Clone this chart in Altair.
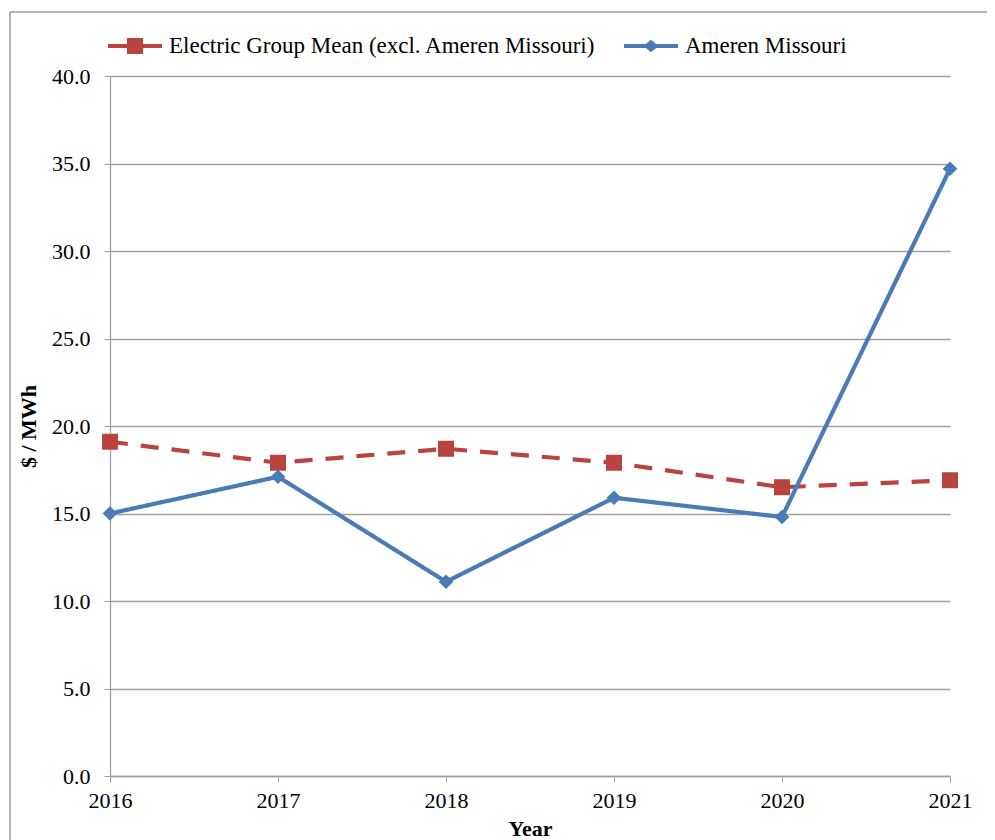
import altair as alt
import pandas as pd

years = [2016, 2017, 2018, 2019, 2020, 2021]
group_mean = [19.1, 17.9, 18.7, 17.9, 16.5, 16.9]
ameren = [15.0, 17.1, 11.1, 15.9, 14.8, 34.7]
series_names = ["Electric Group Mean (excl. Ameren Missouri)", "Ameren Missouri"]
colors = ["#B8433F", "#4A7BB7"]
y_ticks = [0, 5, 10, 15, 20, 25, 30, 35, 40]

rows = []
for s, vals in zip(series_names, [group_mean, ameren]):
    for yr, v in zip(years, vals):
        rows.append({"Year": yr, "Series": s, "Value": v})
df = pd.DataFrame(rows)

FONT = "Liberation Serif"
GRAY = "#A0A0A0"

x_enc = alt.X("Year:Q",
              scale=alt.Scale(domain=[2016, 2021], nice=False, zero=False),
              axis=alt.Axis(values=years, format="d", title="Year", grid=False,
                            tickSize=6, tickColor=GRAY, domainColor=GRAY, domainWidth=1.3,
                            labelPadding=8, titlePadding=7, labelFontSize=22,
                            labelFlush=False, labelFont=FONT, titleFont=FONT,
                            labelColor="black", titleColor="black",
                            titleFontSize=22, titleFontWeight="bold"))
y_enc = alt.Y("Value:Q",
              scale=alt.Scale(domain=[0, 40], nice=False),
              axis=alt.Axis(values=y_ticks, format=".1f", title="$ / MWh",
                            grid=True, gridColor=GRAY, gridWidth=1.3,
                            tickSize=6, tickColor=GRAY, domainColor=GRAY, domainWidth=1.3,
                            labelPadding=14, titlePadding=11, labelFontSize=22,
                            labelFont=FONT, titleFont=FONT,
                            labelColor="black", titleColor="black",
                            titleFontSize=22, titleFontWeight="bold"))

base = alt.Chart(df)

lines = base.mark_line(strokeWidth=4.2).encode(
    x=x_enc, y=y_enc,
    color=alt.Color("Series:N", scale=alt.Scale(domain=series_names, range=colors), legend=None),
    strokeDash=alt.StrokeDash("Series:N",
                              scale=alt.Scale(domain=series_names, range=[[18, 13], [1, 0]]),
                              legend=None),
)

points = base.mark_point(filled=True, opacity=1, size=256).encode(
    x=x_enc, y=y_enc,
    color=alt.Color("Series:N", scale=alt.Scale(domain=series_names, range=colors), legend=None),
    shape=alt.Shape("Series:N",
                    scale=alt.Scale(domain=series_names,
                                    range=["square", "M0,-0.92L0.92,0L0,0.92L-0.92,0Z"]),
                    legend=None),
)

legend_paths = [
    "M-1,-0.075H1V0.075H-1Z M-0.3,-0.3H0.3V0.3H-0.3Z",
    "M-1,-0.07H1V0.07H-1Z M0,-0.23L0.28,0L0,0.23L-0.28,0Z",
]

leg = alt.Legend(title=None, orient="none", legendX=-2, legendY=-57,
                 direction="horizontal", symbolSize=2916,
                 labelFontSize=23, labelFont=FONT, labelColor="black",
                 labelOffset=7, columnPadding=28, padding=0,
                 symbolStrokeWidth=0, labelLimit=600)

legend_layer = base.transform_filter("datum.Value < -1000").mark_point(
    filled=True, opacity=1).encode(
    x=x_enc, y=y_enc,
    color=alt.Color("Series:N", scale=alt.Scale(domain=series_names, range=colors), legend=leg),
    shape=alt.Shape("Series:N", scale=alt.Scale(domain=series_names, range=legend_paths),
                    legend=leg),
)

frame_data = alt.Data(values=[{"k": 1}])
frame_top = alt.Chart(frame_data).mark_rule(color="#999999", strokeWidth=1.5).encode(
    x=alt.value(-100), x2=alt.value(1100), y=alt.value(-64))
frame_left = alt.Chart(frame_data).mark_rule(color="#999999", strokeWidth=1.5).encode(
    x=alt.value(-100), y=alt.value(-64), y2=alt.value(1000))

chart = alt.layer(frame_top, frame_left, lines, points, legend_layer).resolve_scale(
    color="independent", shape="independent", strokeDash="independent"
).properties(
    width=840, height=700,
    background="white",
    autosize=alt.AutoSizeParams(type="none"),
    padding={"left": 102, "top": 68, "right": 37, "bottom": 64},
).configure_view(stroke=None, strokeWidth=0)

chart.save("out.html", embed_options={"renderer": "svg", "actions": False})
